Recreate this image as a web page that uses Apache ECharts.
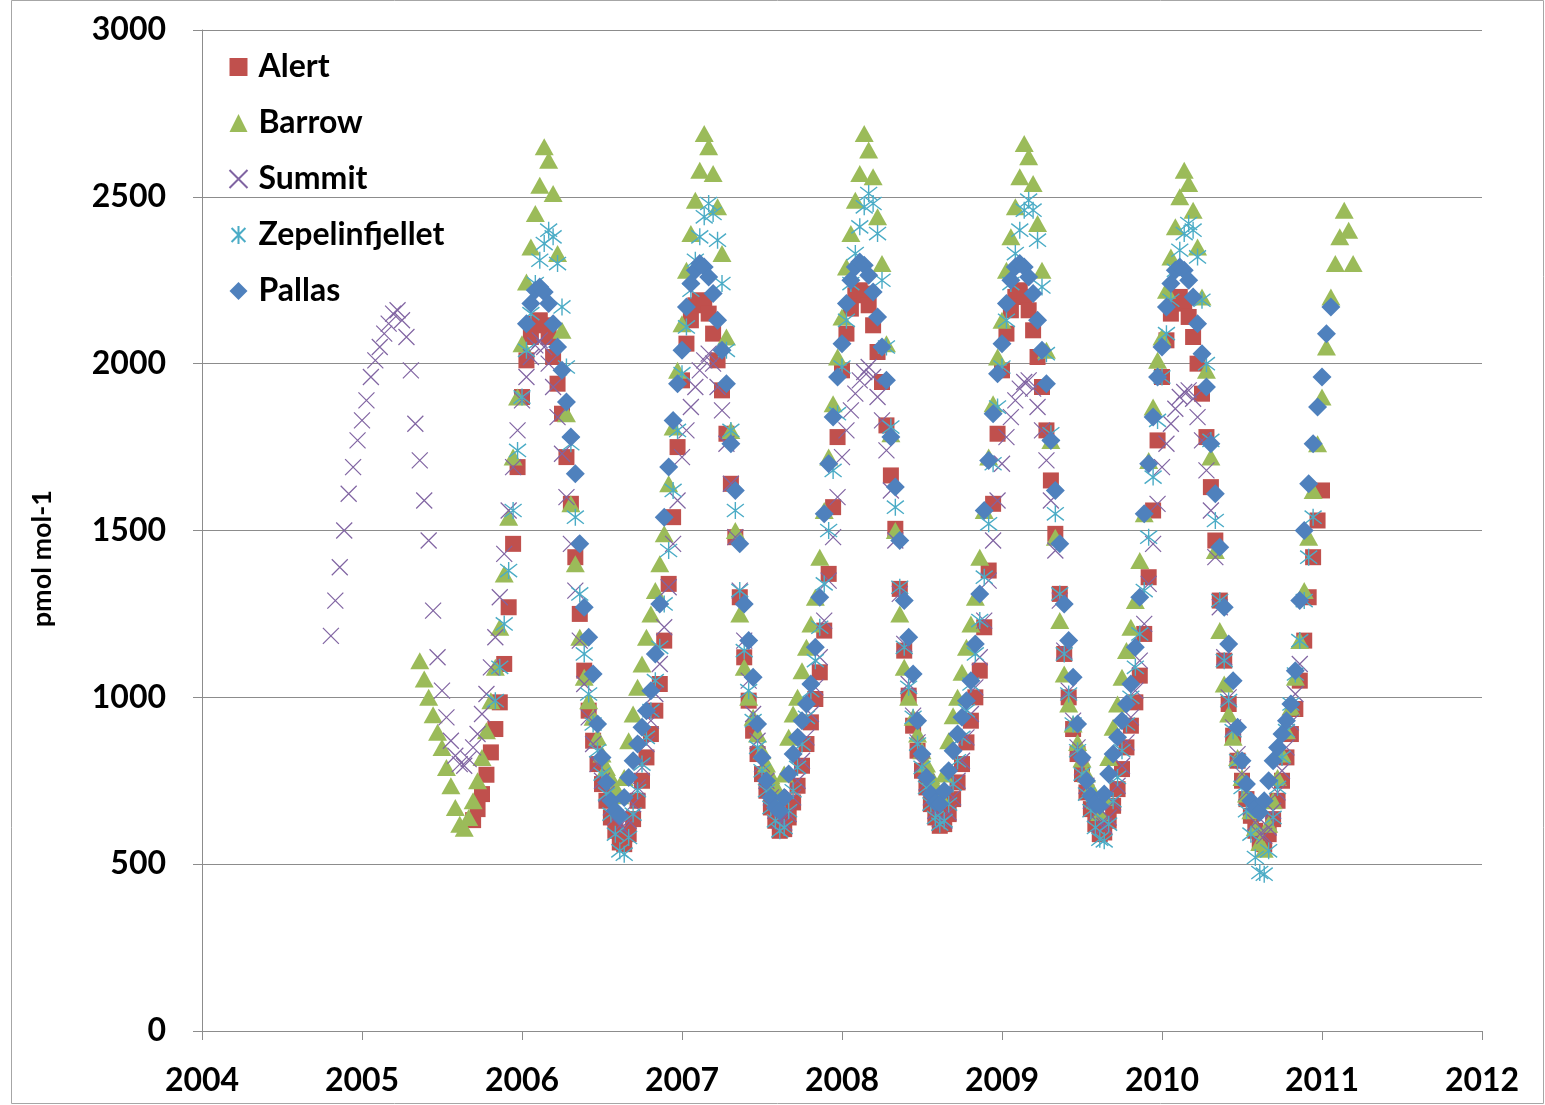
<!DOCTYPE html>
<html><head><meta charset="utf-8">
<script src="https://cdn.jsdelivr.net/npm/echarts@6/dist/echarts.min.js"></script>
<style>html,body{margin:0;padding:0;background:#fff}#c{width:1545px;height:1105px}</style>
</head><body><div id="c"></div>
<script>
// Sampling: 36 slots per year (~10 days). Start = [year, slot index]
const SLOTS_PER_YEAR = 36;
const xTickYears = [2004, 2005, 2006, 2007, 2008, 2009, 2010, 2011, 2012];
const yTicks = [0, 500, 1000, 1500, 2000, 2500, 3000];
const seriesNames = ['Alert', 'Barrow', 'Summit', 'Zepelinfjellet', 'Pallas'];
const yTitle = 'pmol mol-1';

const alertStart = [2005, 25];
const alertValues = [
  632,665,710,768,835,905,985,1100,1270,1460,1690,
  1900,2010,2080,2120,2130,2115,2080,2020,1940,1850,1720,1580,1420,1250,1080,960,870,800,740,690,640,600,565,560,590,635,690,750,820,890,960,1040,1170,1340,1540,1750,
  1950,2060,2130,2175,2190,2180,2150,2090,2010,1920,1790,1640,1480,1300,1120,990,900,830,770,720,670,630,600,605,640,685,735,795,860,925,995,1075,1200,1370,1570,1780,
  1980,2090,2165,2205,2220,2210,2175,2115,2035,1945,1815,1665,1505,1325,1140,1005,915,840,780,730,680,640,615,620,650,695,745,800,865,930,1000,1080,1210,1380,1580,1790,
  1980,2090,2160,2200,2220,2200,2160,2100,2020,1930,1800,1650,1490,1310,1130,1000,905,830,770,715,665,620,590,595,630,675,725,785,850,915,985,1065,1190,1360,1560,1770,
  1960,2070,2150,2190,2200,2180,2140,2080,2000,1910,1780,1630,1470,1290,1110,980,885,810,750,695,645,600,565,560,590,635,690,750,820,890,965,1050,1170,1300,1420,1530,
  1620
];

const barrowStart = [2005, 13];
const barrowValues = [
  1110,1055,1000,948,895,850,790,735,670,620,608,640,690,750,820,900,990,1090,1210,1370,1540,1720,1900,
  2060,2245,2350,2450,2535,2650,2610,2510,2330,2100,1850,1580,1400,1180,1060,990,940,880,830,790,760,730,705,760,870,950,1030,1100,1180,1250,1320,1400,1490,1640,1810,1980,
  2120,2280,2390,2490,2580,2690,2650,2570,2470,2330,2080,1800,1500,1250,1090,1000,940,890,840,800,765,735,705,770,880,950,1000,1080,1150,1220,1300,1420,1560,1720,1880,2020,
  2140,2290,2390,2490,2570,2690,2640,2560,2440,2300,2060,1790,1500,1250,1090,1000,940,890,840,800,765,735,710,770,870,945,1000,1075,1150,1220,1300,1420,1560,1720,1880,2020,
  2130,2280,2380,2470,2560,2660,2620,2540,2420,2280,2040,1770,1480,1230,1070,980,920,865,815,770,730,690,655,700,820,910,980,1060,1140,1210,1290,1410,1550,1710,1870,2010,
  2080,2220,2320,2410,2500,2580,2540,2460,2350,2200,1980,1720,1440,1200,1040,950,880,820,760,710,660,610,565,545,620,690,760,830,900,970,1060,1170,1320,1480,1620,1760,
  1900,2050,2200,2300,2380,2460,2400,2300
];

const summitStart = [2004, 29];
const summitValues = [
  1184,1290,1390,1500,1610,1690,1770,
  1830,1890,1960,2010,2050,2090,2120,2150,2160,2130,2080,1980,1820,1710,1590,1470,1260,1120,1020,940,870,825,800,795,815,850,890,950,1010,1090,1180,1300,1430,1560,1690,1800,
  1890,1960,2020,2055,2070,2050,2000,1930,1840,1730,1600,1460,1320,1170,1040,940,860,800,750,710,670,640,615,605,630,680,730,790,860,930,1010,1100,1210,1330,1460,1590,
  1720,1800,1870,1930,1980,2010,2030,2000,1930,1860,1760,1640,1480,1320,1170,1050,950,870,800,750,700,660,630,625,650,700,750,810,880,950,1030,1120,1230,1350,1480,1600,
  1720,1800,1860,1910,1950,1975,1990,1960,1900,1830,1740,1620,1470,1310,1160,1040,945,865,800,745,700,660,635,630,655,700,750,810,880,950,1030,1120,1230,1350,1470,1590,
  1700,1780,1840,1890,1925,1945,1950,1925,1870,1800,1710,1590,1440,1290,1140,1020,930,850,790,735,690,650,620,615,640,685,735,795,865,940,1020,1110,1220,1340,1460,1580,
  1690,1760,1820,1865,1900,1915,1920,1895,1840,1770,1680,1560,1420,1270,1120,1000,910,830,770,715,670,625,590,585,610,660,715,780,850,925,1010,1100
];

const zepStart = [2005, 30];
const zepValues = [
  990,1090,1220,1380,1560,1740,
  1900,2040,2150,2240,2310,2360,2400,2380,2300,2170,1990,1760,1540,1310,1130,1010,920,840,770,710,650,590,540,530,580,650,720,800,880,960,1050,1150,1280,1440,1620,1800,
  1970,2110,2220,2310,2380,2440,2480,2450,2370,2240,2040,1800,1560,1320,1140,1020,930,850,780,720,670,630,600,610,660,720,790,860,940,1020,1110,1210,1340,1500,1680,1850,
  1990,2130,2240,2330,2410,2470,2510,2480,2390,2250,2050,1810,1570,1330,1150,1030,940,860,790,730,680,640,620,630,680,740,810,880,960,1040,1130,1230,1360,1520,1700,1870,
  1990,2130,2240,2330,2400,2460,2490,2460,2370,2230,2030,1790,1550,1310,1130,1010,920,840,770,710,660,610,575,570,620,690,760,840,920,1000,1090,1190,1320,1480,1660,1830,
  1960,2090,2190,2280,2340,2390,2420,2400,2320,2190,2000,1770,1530,1290,1110,990,900,810,730,660,590,520,475,470,540,640,730,820,900,980,1070,1170,1290,1420,1540
];

const pallasStart = [2006, 1];
const pallasValues = [
  2120,2180,2220,2230,2215,2180,2120,2050,1980,1885,1780,1670,1460,1270,1180,1070,920,820,745,690,660,645,700,760,810,860,910,960,1020,1130,1280,1540,1690,1830,1940,
  2040,2170,2240,2280,2300,2290,2260,2210,2130,2040,1940,1760,1620,1460,1280,1170,1060,920,820,750,700,670,660,700,770,830,880,930,980,1040,1150,1300,1550,1700,1840,1960,
  2060,2180,2250,2290,2305,2295,2265,2215,2140,2050,1950,1780,1630,1470,1290,1180,1070,930,830,760,710,685,680,720,780,840,890,940,990,1050,1160,1310,1560,1710,1850,1970,
  2060,2180,2250,2290,2300,2290,2260,2210,2130,2040,1940,1770,1620,1460,1280,1170,1060,920,820,750,705,680,675,710,770,830,880,930,980,1040,1150,1300,1550,1700,1840,1960,
  2050,2170,2240,2280,2290,2280,2250,2200,2120,2030,1930,1760,1610,1450,1270,1160,1050,910,810,740,690,665,655,690,750,810,850,890,930,980,1080,1290,1500,1640,1760,1870,
  1960,2090,2170
];

function toPoints(start, values) {
  return values.map((v, i) => [start[0] + (start[1] + i) / SLOTS_PER_YEAR, v]);
}

const X_PATH = 'path://M0,0L10,10M10,0L0,10';
const AST_PATH = 'path://M0,0L10,10M10,0L0,10M5,-1.5L5,11.5';
const FONT = 'Lato, "Open Sans", sans-serif';
const GRID_GRAY = '#8c8c8c';

const chart = echarts.init(document.getElementById('c'), null, {renderer: 'canvas'});
chart.setOption({
  animation: false,
  backgroundColor: '#fff',
  graphic: [{
    type: 'rect', shape: {x: 11.5, y: 0.5, width: 1532, height: 1103},
    style: {fill: 'none', stroke: '#a6a6a6', lineWidth: 1}, silent: true, z: -1
  }, {
    type: 'text', left: 29, top: 490, rotation: Math.PI / 2, silent: true,
    style: {text: yTitle, font: 'bold 27px Lato, sans-serif', fill: '#000'}
  }],
  grid: {left: 202, right: 63, top: 30, bottom: 74},
  legend: {
    orient: 'vertical', left: 222, top: 44,
    itemWidth: 18, itemHeight: 18, itemGap: 20,
    data: seriesNames,
    textStyle: {fontFamily: FONT, fontWeight: 'bold', fontSize: 32, color: '#000', lineHeight: 36, padding: [0, 0, 0, 6]}
  },
  xAxis: {
    type: 'value', min: xTickYears[0], max: xTickYears[xTickYears.length - 1], interval: 1,
    axisLine: {show: true, lineStyle: {color: GRID_GRAY, width: 1}},
    axisTick: {show: true, length: 9, lineStyle: {color: GRID_GRAY}},
    splitLine: {show: false},
    axisLabel: {fontFamily: FONT, fontWeight: 'bold', fontSize: 32, color: '#000', margin: 34,
      formatter: v => String(v)}
  },
  yAxis: {
    type: 'value', min: yTicks[0], max: yTicks[yTicks.length - 1], interval: 500,
    axisLine: {show: true, lineStyle: {color: GRID_GRAY, width: 1}},
    axisTick: {show: true, length: 9, lineStyle: {color: GRID_GRAY}},
    splitLine: {show: true, lineStyle: {color: GRID_GRAY, width: 1}},
    axisLabel: {fontFamily: FONT, fontWeight: 'bold', fontSize: 32, color: '#000', margin: 36,
      formatter: v => String(v)}
  },
  series: [
    {name: 'Alert', type: 'scatter', symbol: 'rect', symbolSize: 16,
     itemStyle: {color: '#C0504D', opacity: 1}, data: toPoints(alertStart, alertValues)},
    {name: 'Barrow', type: 'scatter', symbol: 'triangle', symbolSize: [19, 17],
     itemStyle: {color: '#9BBB59', opacity: 1}, data: toPoints(barrowStart, barrowValues)},
    {name: 'Summit', type: 'scatter', symbol: X_PATH, symbolSize: 16,
     itemStyle: {color: 'none', borderColor: '#8064A2', borderWidth: 1.2, opacity: 1}, data: toPoints(summitStart, summitValues)},
    {name: 'Zepelinfjellet', type: 'scatter', symbol: AST_PATH, symbolSize: 17,
     itemStyle: {color: 'none', borderColor: '#4BACC6', borderWidth: 1.4, opacity: 1}, data: toPoints(zepStart, zepValues)},
    {name: 'Pallas', type: 'scatter', symbol: 'diamond', symbolSize: 19,
     itemStyle: {color: '#4F81BD', opacity: 1}, data: toPoints(pallasStart, pallasValues)}
  ]
});
</script></body></html>
